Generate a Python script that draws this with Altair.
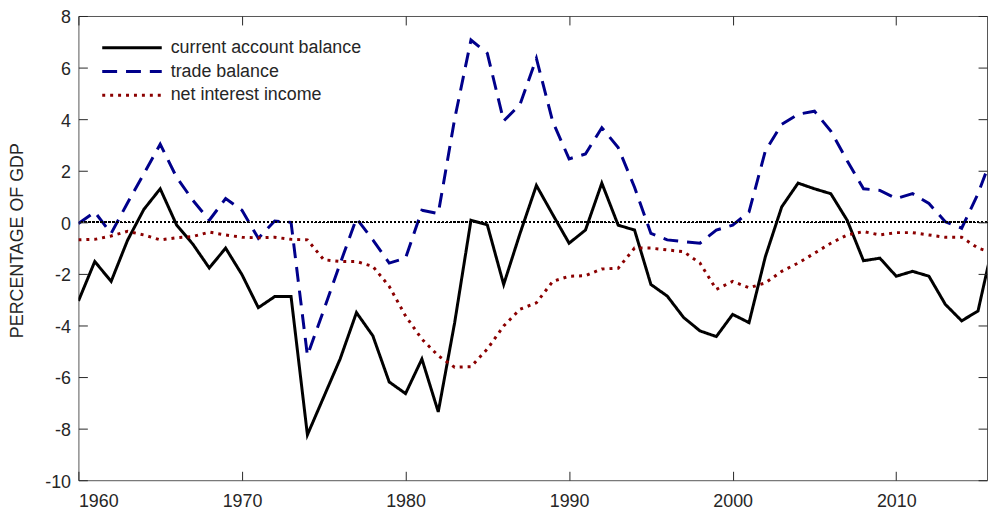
import altair as alt
import pandas as pd

years = list(range(1960, 2017))

current_account = [
    -3.05, -1.52, -2.29, -0.70, 0.50, 1.30, -0.10, -0.85, -1.77, -1.00,
    -2.03, -3.31, -2.88, -2.88, -8.24, -6.77, -5.30, -3.50, -4.40, -6.19,
    -6.64, -5.30, -7.35, -3.90, 0.08, -0.10, -2.41, -0.43, 1.43, 0.30,
    -0.81, -0.30, 1.52, -0.11, -0.30, -2.41, -2.86, -3.69, -4.21, -4.43,
    -3.57, -3.89, -1.33, 0.60, 1.52, 1.30, 1.11, 0.08, -1.49, -1.39,
    -2.09, -1.90, -2.09, -3.18, -3.82, -3.44, -0.60,
]
trade_balance = [
    -0.05, 0.40, -0.43, 0.75, 1.88, 3.03, 1.75, 0.85, 0.08, 0.92,
    0.47, -0.62, 0.05, 0.00, -5.17, -3.40, -1.60, 0.15, -0.68, -1.58,
    -1.39, 0.47, 0.34, 4.00, 7.07, 6.55, 3.93, 4.57, 6.36, 3.90,
    2.46, 2.65, 3.67, 2.90, 1.36, -0.43, -0.68, -0.75, -0.81, -0.30,
    -0.11, 0.40, 2.77, 3.80, 4.19, 4.31, 3.54, 2.39, 1.30, 1.24,
    0.92, 1.11, 0.73, 0.02, -0.23, 1.11, 2.80,
]
net_interest_income = [
    -0.68, -0.66, -0.53, -0.35, -0.49, -0.68, -0.60, -0.55, -0.38, -0.49,
    -0.58, -0.60, -0.58, -0.66, -0.68, -1.45, -1.52, -1.52, -1.71, -2.48,
    -3.63, -4.53, -5.17, -5.62, -5.60, -4.91, -4.02, -3.37, -3.12, -2.29,
    -2.09, -2.07, -1.81, -1.78, -1.00, -1.00, -1.07, -1.14, -1.58, -2.60,
    -2.29, -2.54, -2.35, -1.90, -1.58, -1.20, -0.81, -0.49, -0.36, -0.49,
    -0.40, -0.40, -0.49, -0.58, -0.58, -1.00, -1.20,
]

series_names = ["current account balance", "trade balance", "net interest income"]
series_colors = ["#000000", "#00008B", "#8B0000"]
series_dashes = [[1, 0], [15, 9], [3, 5]]
x_ticks = [1960, 1970, 1980, 1990, 2000, 2010]
y_ticks = list(range(-10, 9, 2))

rows = []
for name, vals in zip(series_names, [current_account, trade_balance, net_interest_income]):
    for yr, v in zip(years, vals):
        rows.append({"year": yr, "value": v, "series": name})
df = pd.DataFrame(rows)

W, H = 916, 468
FONT = "Liberation Sans"
TXT = "#262626"
INWARD = alt.ExprRef("-9")
xscale = alt.Scale(domain=[1960, 2015.55], nice=False, zero=False)
yscale = alt.Scale(domain=[-10, 8], nice=False, zero=False)

legend = alt.Legend(
    title=None, orient="none", legendX=45, legendY=23, padding=0,
    symbolType="M-4,0H4", symbolSize=225, symbolStrokeWidth=3,
    labelFont=FONT, labelFontSize=18, labelColor=TXT, labelOffset=30,
    labelLimit=500, rowPadding=6,
)

lines = alt.Chart(df).mark_line(clip=True, strokeWidth=3).encode(
    x=alt.X("year:Q", scale=xscale, axis=alt.Axis(
        orient="bottom", values=x_ticks, format="d", ticks=True, tickSize=INWARD,
        tickColor=TXT, tickWidth=1, domain=False, grid=False, title=None, zindex=1,
        labelFont=FONT, labelFontSize=18, labelColor=TXT, labelPadding=21)),
    y=alt.Y("value:Q", scale=yscale, axis=alt.Axis(
        orient="left", values=y_ticks, ticks=True, tickSize=INWARD, tickColor=TXT,
        tickWidth=1, domain=False, grid=False, zindex=1,
        labelExpr="replace(datum.label, '\u2212', '-')",
        title="PERCENTAGE OF GDP", labelFont=FONT, labelFontSize=18, labelColor=TXT,
        labelPadding=17, labelOffset=2, titleFont=FONT, titleFontSize=18,
        titleFontWeight="normal", titleColor=TXT, titleX=-61, titleY=226,
        titleAngle=270, titleAlign="center", titleBaseline="middle")),
    color=alt.Color("series:N", scale=alt.Scale(domain=series_names, range=series_colors),
                    legend=legend),
    strokeDash=alt.StrokeDash("series:N", scale=alt.Scale(domain=series_names, range=series_dashes),
                              legend=legend),
)

zero = alt.Chart(df).mark_rule(color="black", strokeDash=[1.5, 2.5], strokeWidth=1.3).encode(
    y=alt.YDatum(0, axis=None, scale=yscale),
)

tick_ax = dict(labels=False, ticks=True, tickSize=INWARD, tickColor=TXT, tickWidth=1,
               domain=False, grid=False, title=None, zindex=1)

ticks_tr = alt.Chart(df).mark_line(opacity=0).encode(
    x=alt.X("year:Q", scale=xscale, axis=alt.Axis(orient="top", values=x_ticks, **tick_ax)),
    y=alt.Y("value:Q", scale=yscale, axis=alt.Axis(orient="right", values=y_ticks, **tick_ax)),
    detail="series:N",
)

chart = alt.layer(lines, zero, ticks_tr).resolve_axis(
    x="independent", y="independent"
).properties(
    width=W, height=H,
    autosize=alt.AutoSizeParams(type="none"),
    padding={"left": 71, "top": 6, "right": 1, "bottom": 33},
).configure(font=FONT).configure_view(stroke="#555555", strokeWidth=1)

chart.save("out.html", embed_options={"renderer": "svg", "actions": False})
